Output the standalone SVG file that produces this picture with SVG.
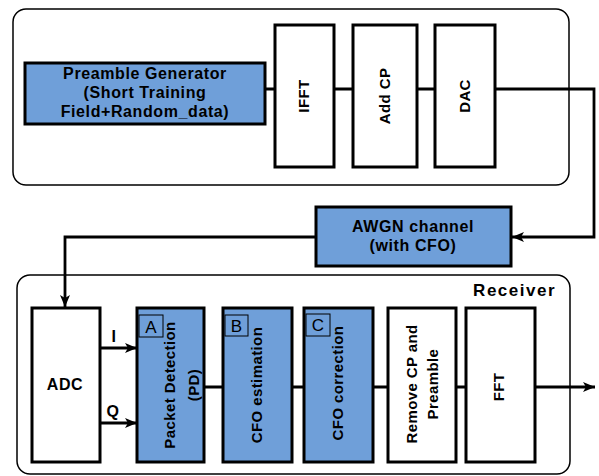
<svg xmlns="http://www.w3.org/2000/svg" width="599" height="476" viewBox="0 0 599 476">
<defs>
<style>
.cont{fill:#fff;stroke:#000;stroke-width:1.5}
.blk{stroke:#000;stroke-width:3}
.w{fill:#fff}
.b{fill:#6f9fd9}
.t{font-family:"Liberation Sans",Arial,sans-serif;font-weight:bold;font-size:16px;letter-spacing:0.6px;text-anchor:middle;fill:#000}
.v{font-family:"Liberation Sans",Arial,sans-serif;font-weight:bold;font-size:15px;letter-spacing:0.4px;text-anchor:middle;fill:#000}
.lb{fill:none;stroke:#000;stroke-width:1}
.lt{font-family:"Liberation Sans",Arial,sans-serif;font-size:17px;text-anchor:middle;fill:#000}
.c{fill:none;stroke:#000;stroke-width:2.8}
</style>
<marker id="ah" viewBox="0 0 12 10" refX="12" refY="5" markerWidth="12" markerHeight="10" markerUnits="userSpaceOnUse" orient="auto">
<path d="M0,0 L12,5 L0,10 L3,5 Z" fill="#000"/>
</marker>
</defs>
<g id="transmitter">
<rect class="cont" x="13" y="9" width="556" height="176" rx="13"/>
</g>
<g id="receiver">
<rect class="cont" x="17" y="275" width="553" height="199" rx="13"/>
<text class="t" x="556" y="296" style="text-anchor:end;font-size:17px;letter-spacing:1.5px">Receiver</text>
</g>
<g id="connectors">
<path class="c" d="M265,89 H275 M334,89 H353 M417,89 H435"/>
<path class="c" d="M495,89 H594 V237 H512" marker-end="url(#ah)"/>
<path class="c" d="M316,237 H65 V307" marker-end="url(#ah)"/>
<path class="c" d="M100,348 H137" marker-end="url(#ah)"/>
<path class="c" d="M100,423 H137" marker-end="url(#ah)"/>
<path class="c" d="M204,387 H223 M292,387 H304 M373,387 H388 M456,387 H466"/>
<path class="c" d="M535,387 H595" marker-end="url(#ah)"/>
<text class="t" x="114" y="342">I</text>
<text class="t" x="113" y="417">Q</text>
</g>
<g id="preamble">
<rect class="blk b" x="25" y="63" width="240" height="61"/>
<text class="t" x="145" y="79">Preamble Generator</text>
<text class="t" x="145" y="98">(Short Training</text>
<text class="t" x="145" y="117">Field+Random_data)</text>
</g>
<g id="ifft">
<rect class="blk w" x="275" y="25" width="59" height="142"/>
<text class="v" transform="translate(309,96) rotate(-90)">IFFT</text>
</g>
<g id="addcp">
<rect class="blk w" x="353" y="25" width="64" height="142"/>
<text class="v" transform="translate(390,96) rotate(-90)">Add CP</text>
</g>
<g id="dac">
<rect class="blk w" x="435" y="25" width="60" height="142"/>
<text class="v" transform="translate(470,96) rotate(-90)">DAC</text>
</g>
<g id="awgn">
<rect class="blk b" x="316" y="207" width="195" height="59"/>
<text class="t" x="413" y="232">AWGN channel</text>
<text class="t" x="413" y="251">(with CFO)</text>
</g>
<g id="adc">
<rect class="blk w" x="32" y="308" width="68" height="154"/>
<text class="t" x="65" y="390">ADC</text>
</g>
<g id="pd">
<rect class="blk b" x="137" y="308" width="67" height="154"/>
<rect class="lb" x="139" y="315" width="24" height="22"/>
<text class="lt" x="151" y="333">A</text>
<text class="v" transform="translate(175,385) rotate(-90)">Packet Detection</text>
<text class="v" transform="translate(199,385) rotate(-90)">(PD)</text>
</g>
<g id="cfoest">
<rect class="blk b" x="223" y="308" width="69" height="154"/>
<rect class="lb" x="225" y="315" width="23" height="21"/>
<text class="lt" x="236.5" y="332">B</text>
<text class="v" transform="translate(262,385) rotate(-90)">CFO estimation</text>
</g>
<g id="cfocorr">
<rect class="blk b" x="304" y="308" width="69" height="154"/>
<rect class="lb" x="306" y="314" width="24" height="22"/>
<text class="lt" x="318" y="331">C</text>
<text class="v" transform="translate(343,383) rotate(-90)">CFO correction</text>
</g>
<g id="removecp">
<rect class="blk w" x="388" y="308" width="68" height="154"/>
<text class="v" transform="translate(417,384) rotate(-90)">Remove CP and</text>
<text class="v" transform="translate(438,384) rotate(-90)">Preamble</text>
</g>
<g id="fft">
<rect class="blk w" x="466" y="308" width="69" height="154"/>
<text class="v" transform="translate(504,387) rotate(-90)">FFT</text>
</g>
</svg>
